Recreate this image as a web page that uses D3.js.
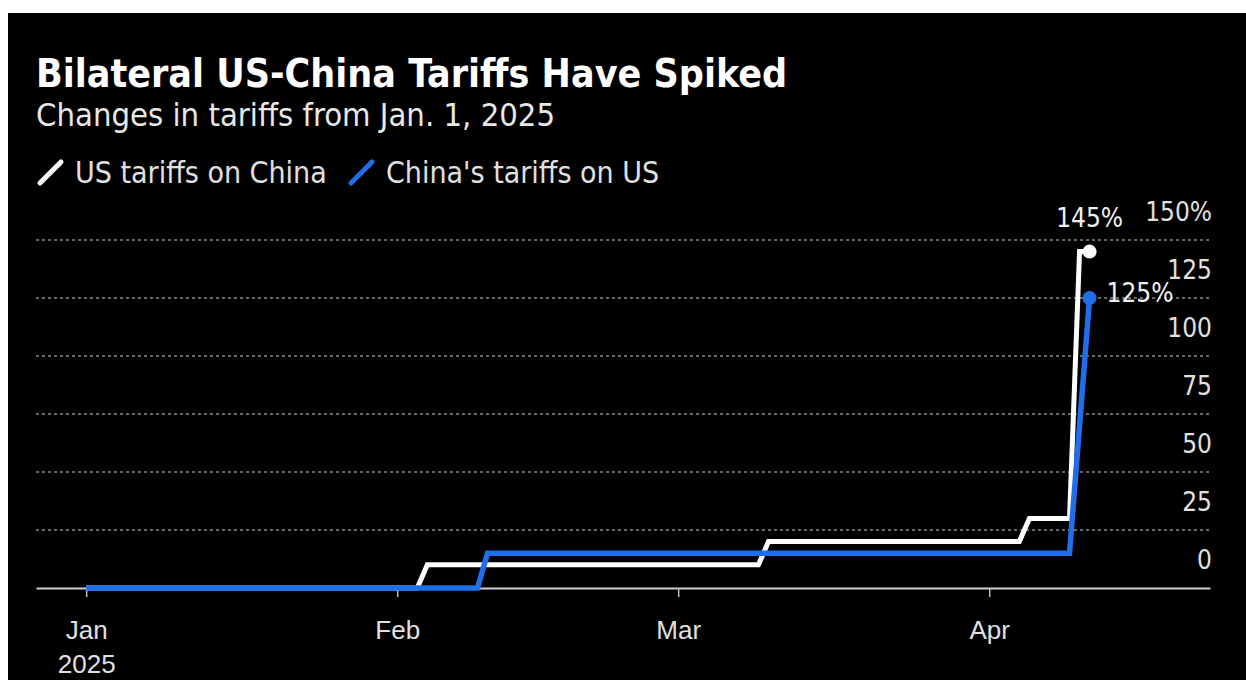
<!DOCTYPE html>
<html>
<head>
<meta charset="utf-8">
<script src="https://cdn.jsdelivr.net/npm/d3@7"></script>
<style>
  body { margin: 0; background: #fff; }
  svg { display: block; font-family: "DejaVu Sans Condensed", "DejaVu Sans", sans-serif; font-stretch: condensed; }
  .title { fill: #fff; font-weight: bold; font-size: 39px; }
  .sub { fill: #e8e8e8; font-size: 32.5px; }
  .legend { fill: #e0e0e0; font-size: 30px; }
  .tick-label { fill: #e0e0e0; font-size: 26px; }
  .grid { stroke: #8a8a8a; stroke-width: 1.5; stroke-dasharray: 3 3; }
  .end-label { fill: #f0f0f0; font-size: 26px; }
</style>
</head>
<body>
<div id="chart"></div>
<script>
// Data
const usDates = ["2025-01-01", "2025-02-03", "2025-02-04", "2025-03-09", "2025-03-10",
                 "2025-04-04", "2025-04-05", "2025-04-09", "2025-04-10", "2025-04-11"];
const usValues = [0, 0, 10, 10, 20, 20, 30, 30, 145, 145];
const cnDates = ["2025-01-01", "2025-02-09", "2025-02-10", "2025-04-09", "2025-04-11"];
const cnValues = [0, 0, 15, 15, 125];
const yTicks = [0, 25, 50, 75, 100, 125, 150];
const xTicks = ["2025-01-01", "2025-02-01", "2025-03-01", "2025-04-01"];
const xTickLabels = ["Jan", "Feb", "Mar", "Apr"];

const W = 1246, H = 680;
const parse = d3.utcParse("%Y-%m-%d");
const usData = usDates.map((d, i) => ({ date: parse(d), value: usValues[i] }));
const cnData = cnDates.map((d, i) => ({ date: parse(d), value: cnValues[i] }));

// Scales
const x = d3.scaleUtc()
    .domain([parse("2024-12-27"), parse("2025-04-23")])
    .range([36, 1210]);
const y = d3.scaleLinear().domain([0, 150]).range([588, 240]);

const svg = d3.select("#chart").append("svg")
    .attr("width", W)
    .attr("height", H);

// Black panel
svg.append("rect")
    .attr("x", 8).attr("y", 13)
    .attr("width", W - 8).attr("height", H - 13)
    .attr("fill", "#000");

// Header
svg.append("text").attr("class", "title").attr("x", 36).attr("y", 87)
    .text("Bilateral US-China Tariffs Have Spiked");
svg.append("text").attr("class", "sub").attr("x", 36).attr("y", 126)
    .text("Changes in tariffs from Jan. 1, 2025");

// Legend
const legend = [
  { label: "US tariffs on China", color: "#ffffff", x: 40 },
  { label: "China's tariffs on US", color: "#1f6fea", x: 351 }
];
legend.forEach(l => {
  svg.append("line")
      .attr("x1", l.x).attr("y1", 183).attr("x2", l.x + 21).attr("y2", 162)
      .attr("stroke", l.color).attr("stroke-width", 5).attr("stroke-linecap", "round");
  svg.append("text").attr("class", "legend")
      .attr("x", l.x + 35).attr("y", 183)
      .text(l.label);
});

// Gridlines (not at zero)
svg.append("g").selectAll("line")
    .data(yTicks.filter(d => d > 0))
    .join("line")
    .attr("class", "grid")
    .attr("x1", 36).attr("x2", 1210)
    .attr("y1", d => y(d)).attr("y2", d => y(d));

// Y labels sit above their lines, right aligned
const yl = svg.append("g").selectAll("text")
    .data(yTicks)
    .join("text")
    .attr("class", "tick-label")
    .attr("x", 1212)
    .attr("y", d => y(d) - 19)
    .attr("text-anchor", "end")
    .text(d => d);
yl.filter(d => d === 150).append("tspan")
    .attr("text-anchor", "start")
    .text("%");

// X axis
const xAxis = svg.append("g")
    .attr("transform", `translate(0, ${y(0)})`)
    .call(d3.axisBottom(x)
      .tickValues(xTicks.map(parse))
      .tickSize(9)
      .tickSizeOuter(0)
      .tickFormat((d, i) => xTickLabels[i]));
xAxis.select(".domain").attr("stroke", "#cfcfcf").attr("stroke-width", 2);
xAxis.selectAll(".tick line").attr("stroke", "#bdbdbd").attr("stroke-width", 1.5);
xAxis.selectAll(".tick text")
    .attr("class", "tick-label")
    .attr("fill", null)
    .attr("font-family", null)
    .attr("font-size", null)
    .attr("dy", null)
    .attr("y", 51);
xAxis.select(".tick text").append("tspan")
    .attr("x", 0).attr("dy", 34)
    .text("2025");

// Lines
const line = d3.line()
    .x(d => x(d.date))
    .y(d => y(d.value));

svg.append("path")
    .datum(usData)
    .attr("d", line)
    .attr("fill", "none")
    .attr("stroke", "#ffffff")
    .attr("stroke-width", 5);

svg.append("path")
    .datum(cnData)
    .attr("d", line)
    .attr("fill", "none")
    .attr("stroke", "#1f6fea")
    .attr("stroke-width", 5.5);

// End dots and labels
const usLast = usData[usData.length - 1];
const cnLast = cnData[cnData.length - 1];
svg.append("circle")
    .attr("cx", x(usLast.date)).attr("cy", y(usLast.value)).attr("r", 7)
    .attr("fill", "#fff");
svg.append("circle")
    .attr("cx", x(cnLast.date)).attr("cy", y(cnLast.value)).attr("r", 7)
    .attr("fill", "#1f6fea");
svg.append("text").attr("class", "end-label")
    .attr("x", x(usLast.date)).attr("y", y(usLast.value) - 25)
    .attr("text-anchor", "middle")
    .text(usLast.value + "%");
svg.append("text").attr("class", "end-label")
    .attr("x", x(cnLast.date) + 17).attr("y", y(cnLast.value) + 4)
    .text(cnLast.value + "%");
</script>
</body>
</html>
